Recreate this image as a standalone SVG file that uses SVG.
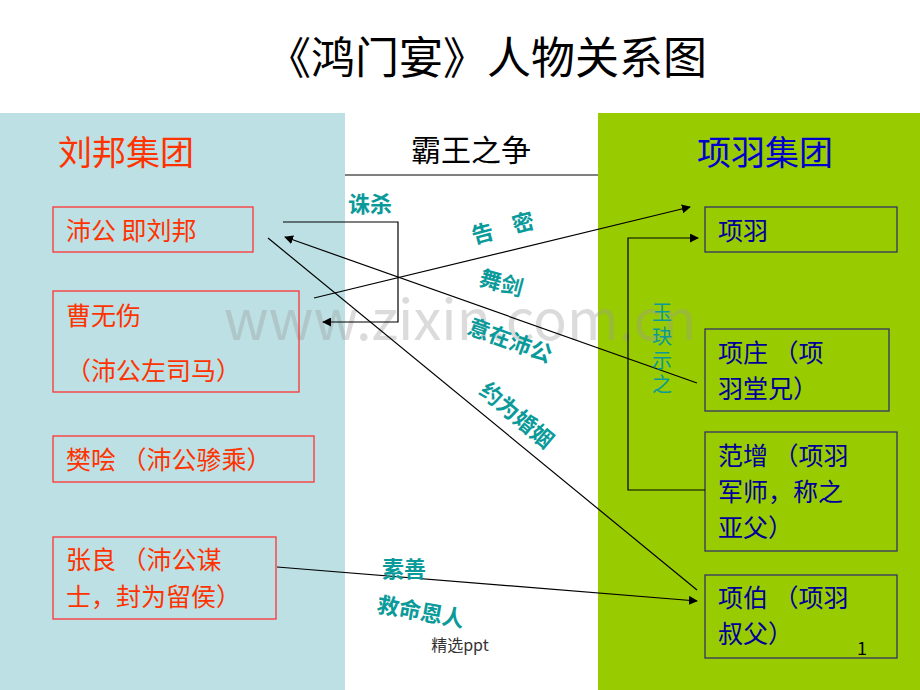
<svg xmlns="http://www.w3.org/2000/svg" width="920" height="690" viewBox="0 0 920 690">
<style>
text{font-family:"Noto Sans CJK SC","Liberation Sans",sans-serif}
.lb{fill:none;stroke:#FF3333;stroke-width:1.3}
.rb{fill:none;stroke:#333366;stroke-width:1.3}
.lt{fill:#FF3300;font-size:25px}
.rt{fill:#000099;font-size:25px}
.lab{fill:#0A9A9A;font-size:22px;font-weight:bold}
.v{fill:#0A9A9A;font-size:20px}
.c{fill:none;stroke:#000;stroke-width:1.2}
</style>
<defs><marker id="a" viewBox="0 0 10 10" refX="9" refY="5" markerWidth="9" markerHeight="9" orient="auto" markerUnits="userSpaceOnUse"><path d="M0,0L10,5L0,10z" fill="#000"/></marker></defs>
<rect width="920" height="690" fill="#fff"/>
<rect x="0" y="113" width="345" height="577" fill="#BCE0E4"/>
<rect x="598" y="113" width="322" height="577" fill="#99CC00"/>
<line x1="345" y1="175" x2="598" y2="175" stroke="#000" stroke-width="1"/>
<text x="487" y="74" font-size="44" text-anchor="middle" fill="#000">《鸿门宴》人物关系图</text>
<text x="58" y="165" font-size="34" fill="#FF3300">刘邦集团</text>
<text x="697" y="165" font-size="34" fill="#0000CC">项羽集团</text>
<text x="471" y="161" font-size="30" text-anchor="middle" fill="#000">霸王之争</text>
<text x="460" y="340" font-size="56" fill="#999" opacity="0.35" text-anchor="middle" font-family="Liberation Sans,sans-serif">www.zixin.com.cn</text>
<g id="liubang"><rect class="lb" x="53" y="207" width="200" height="45"/><text class="lt" x="66" y="240">沛公 即刘邦</text></g>
<g id="cao"><rect class="lb" x="53" y="291" width="246" height="101"/><text class="lt" x="66" y="325">曹无伤</text><text class="lt" x="66" y="380">（沛公左司马）</text></g>
<g id="fan"><rect class="lb" x="53" y="436" width="261" height="46"/><text class="lt" x="66" y="469">樊哙 （沛公骖乘）</text></g>
<g id="zhang"><rect class="lb" x="53" y="537" width="223" height="82"/><text class="lt" x="66" y="569">张良 （沛公谋</text><text class="lt" x="66" y="606">士，封为留侯）</text></g>
<g id="xiangyu"><rect class="rb" x="705" y="207" width="192" height="45"/><text class="rt" x="718" y="240">项羽</text></g>
<g id="xiangzhuang"><rect class="rb" x="705" y="329" width="184" height="82"/><text class="rt" x="718" y="362">项庄 （项</text><text class="rt" x="718" y="398">羽堂兄）</text></g>
<g id="fanzeng"><rect class="rb" x="705" y="432" width="192" height="119"/><text class="rt" x="718" y="465">范增 （项羽</text><text class="rt" x="718" y="501">军师，称之</text><text class="rt" x="718" y="537">亚父）</text></g>
<g id="xiangbo"><rect class="rb" x="705" y="575" width="192" height="83"/><text class="rt" x="718" y="607">项伯 （项羽</text><text class="rt" x="718" y="643">叔父）</text></g>
<g id="connectors">
<polyline class="c" points="283,222 398,222 398,322 323,322" marker-end="url(#a)"/>
<line class="c" x1="314" y1="298" x2="690" y2="207" marker-end="url(#a)"/>
<line class="c" x1="697" y1="383" x2="285" y2="237" marker-end="url(#a)"/>
<line class="c" x1="268" y1="238" x2="697" y2="590"/>
<polyline class="c" points="705,490 628,490 628,238 698,238" marker-end="url(#a)"/>
<line class="c" x1="277" y1="567" x2="697" y2="601" marker-end="url(#a)"/>
</g>
<g id="labels">
<text class="lab" x="348" y="212">诛杀</text>
<text class="lab" transform="translate(474,244) rotate(-15)" letter-spacing="20">告密</text>
<text class="lab" transform="translate(478,285) rotate(15)">舞剑</text>
<text class="lab" transform="translate(466,333) rotate(20)">意在沛公</text>
<text class="lab" transform="translate(478,393) rotate(40)">约为婚姻</text>
<text class="lab" x="382" y="577">素善</text>
<text class="lab" transform="translate(376,612) rotate(10)">救命恩人</text>
<text class="v" x="652" y="320">玉</text>
<text class="v" x="652" y="344">玦</text>
<text class="v" x="652" y="368">示</text>
<text class="v" x="652" y="392">之</text>
</g>
<text x="460" y="651" font-size="16" text-anchor="middle" fill="#333">精选ppt</text>
<text x="857" y="655" font-size="18" font-family="Liberation Sans,sans-serif" fill="#000">1</text>
</svg>
